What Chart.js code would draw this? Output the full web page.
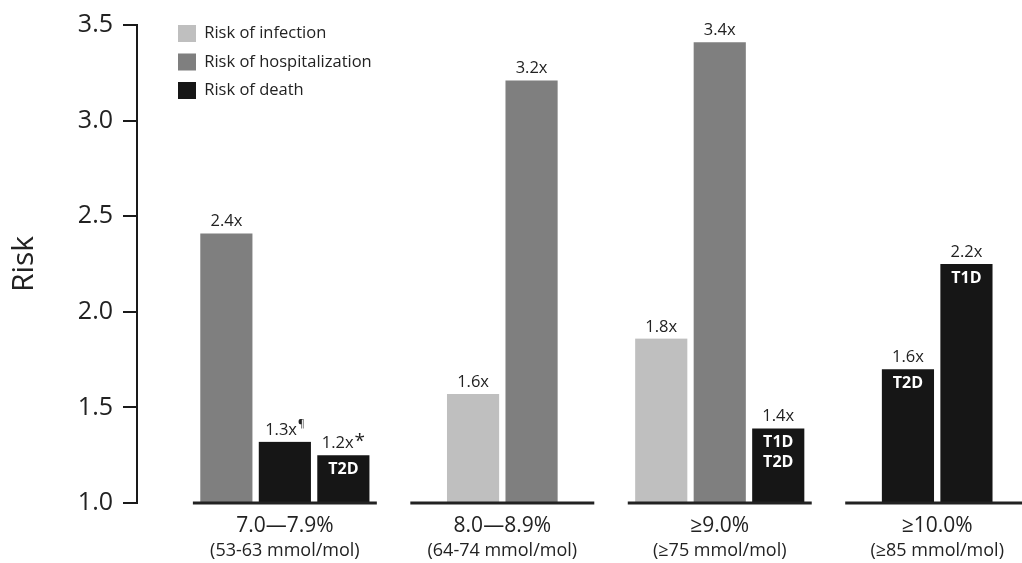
<!DOCTYPE html>
<html>
<head>
<meta charset="utf-8">
<script src="https://cdn.jsdelivr.net/npm/chart.js@4.4.1/dist/chart.umd.min.js"></script>
<style>
  html, body { margin: 0; padding: 0; background: #fff; overflow: hidden; }
  #wrap { width: 1022px; height: 563px; }
</style>
</head>
<body>
<div id="wrap"><canvas id="riskChart"></canvas></div>
<script>
// HbA1c bands (x axis)
const bands = ['7.0—7.9%', '8.0—8.9%', '≥9.0%', '≥10.0%'];
const bandsMmol = ['(53-63 mmol/mol)', '(64-74 mmol/mol)', '(≥75 mmol/mol)', '(≥85 mmol/mol)'];

// Bar heights
const infection = [null, 1.57, 1.86, null];
const hospitalization = [2.41, 3.21, 3.41, null];
const death = [1.32, null, 1.39, 1.70];
const deathByType = [1.25, null, null, 2.25];

// Printed labels above the bars
const infectionLabels = [null, '1.6x', '1.8x', null];
const hospitalizationLabels = ['2.4x', '3.2x', '3.4x', null];
const deathLabels = ['1.3x', null, '1.4x', '1.6x'];
const deathByTypeLabels = ['1.2x', null, null, '2.2x'];

// Footnote marks and labels inside the bars
const deathNotes = ['¶', null, null, null];
const deathByTypeNotes = ['*', null, null, null];
const deathInner = [null, null, 'T1D\nT2D', 'T2D'];
const deathByTypeInner = ['T2D', null, null, 'T1D'];

const yTicks = [1.0, 1.5, 2.0, 2.5, 3.0, 3.5];

const TEXT = '#222222';
const FONT = "'Open Sans', sans-serif";
Chart.defaults.font.family = FONT;

function barSet(label, data, color, valueLabels, notes, inner) {
    return {
        label: label,
        data: data,
        backgroundColor: color,
        borderColor: '#ffffff',
        borderWidth: { left: 3.5, right: 3.5, top: 0, bottom: 0 },
        barThickness: 58.5,
        valueLabels: valueLabels,
        notes: notes || [],
        inner: inner || []
    };
}

// Libellés au-dessus / dans les barres
const barLabels = {
    id: 'barLabels',
    afterDatasetsDraw(chart) {
        const ctx = chart.ctx;
        ctx.save();
        chart.data.datasets.forEach((ds, di) => {
            const meta = chart.getDatasetMeta(di);
            meta.data.forEach((bar, i) => {
                if (ds.data[i] == null) return;
                const main = ds.valueLabels[i];
                const note = ds.notes[i];
                ctx.font = `16.5px ${FONT}`;
                const wMain = ctx.measureText(main).width;
                let wNote = 0;
                const noteSize = note === '*' ? 19 : 10;
                if (note) {
                    ctx.font = `${noteSize}px ${FONT}`;
                    wNote = ctx.measureText(note).width + 1;
                }
                const x0 = bar.x - (wMain + wNote) / 2;
                const yb = bar.y - 7;
                ctx.fillStyle = TEXT;
                ctx.textAlign = 'left';
                ctx.textBaseline = 'alphabetic';
                ctx.font = `16.5px ${FONT}`;
                ctx.fillText(main, x0, yb);
                if (note) {
                    ctx.font = `${noteSize}px ${FONT}`;
                    ctx.textBaseline = 'top';
                    ctx.fillText(note, x0 + wMain + 1, yb - 16);
                }
                const inner = ds.inner[i];
                if (inner) {
                    ctx.font = `bold 16px ${FONT}`;
                    ctx.fillStyle = '#ffffff';
                    ctx.textAlign = 'center';
                    ctx.textBaseline = 'top';
                    inner.split('\n').forEach((line, k) => {
                        ctx.fillText(line, bar.x, bar.y + 6 + k * 20);
                    });
                }
            });
        });
        ctx.restore();
    }
};

// Lignes de base par groupe + libellés de l'axe x
const bandAxis = {
    id: 'bandAxis',
    afterDatasetsDraw(chart) {
        const { ctx, scales: { x, y } } = chart;
        const baseY = y.getPixelForValue(1);
        const half = (x.getPixelForValue(1) - x.getPixelForValue(0)) * 0.423;
        ctx.save();
        ctx.strokeStyle = TEXT;
        ctx.lineWidth = 3;
        bands.forEach((b, i) => {
            const cx = x.getPixelForValue(i);
            ctx.beginPath();
            ctx.moveTo(cx - half, baseY);
            ctx.lineTo(cx + half, baseY);
            ctx.stroke();
        });
        ctx.fillStyle = TEXT;
        ctx.textAlign = 'center';
        ctx.textBaseline = 'middle';
        bands.forEach((b, i) => {
            const cx = x.getPixelForValue(i);
            ctx.font = `21px ${FONT}`;
            ctx.fillText(b, cx, baseY + 23);
            ctx.font = `18px ${FONT}`;
            ctx.fillText(bandsMmol[i], cx, baseY + 48);
        });
        ctx.restore();
    }
};

// Place la légende en haut à gauche de la zone du graphique
const legendOffset = {
    id: 'legendOffset',
    afterLayout(chart) {
        const lg = chart.legend;
        const pad = lg.options.labels.padding;
        lg.left = chart.chartArea.left + 41 - pad;
        lg.top = chart.chartArea.top - pad;
    }
};

new Chart(document.getElementById('riskChart'), {
    type: 'bar',
    data: {
        labels: bands.map((_, i) => i),
        datasets: [
            barSet('Risk of infection', infection, '#bfbfbf', infectionLabels),
            barSet('Risk of hospitalization', hospitalization, '#7f7f7f', hospitalizationLabels),
            barSet('Risk of death', death, '#161616', deathLabels, deathNotes, deathInner),
            barSet('Risk of death (by type)', deathByType, '#161616', deathByTypeLabels, deathByTypeNotes, deathByTypeInner)
        ]
    },
    options: {
        responsive: true,
        maintainAspectRatio: false,
        animation: false,
        events: [],
        skipNull: true,
        layout: { padding: { top: 20, bottom: 60, left: 0, right: 0 } },
        scales: {
            x: {
                type: 'linear',
                offset: false,
                min: -0.68,
                max: 3.39,
                display: false
            },
            y: {
                min: 1,
                max: 3.5,
                afterFit: s => { s.width = 137; },
                afterBuildTicks: s => { s.ticks = yTicks.map(v => ({ value: v })); },
                ticks: {
                    callback: v => v.toFixed(1),
                    color: TEXT,
                    font: { size: 25 },
                    padding: 10
                },
                grid: { drawOnChartArea: false, drawTicks: true, tickLength: 14, color: '#1a1a1a', lineWidth: 2 },
                border: { display: true, color: '#1a1a1a', width: 2 },
                title: { display: true, text: 'Risk', color: TEXT, font: { size: 30 }, padding: { top: 6, bottom: 0 } }
            }
        },
        plugins: {
            tooltip: { enabled: false },
            legend: {
                position: 'chartArea',
                align: 'start',
                labels: {
                    boxWidth: 18,
                    boxHeight: 17,
                    padding: 11.5,
                    color: TEXT,
                    font: { size: 16.5 },
                    filter: item => item.datasetIndex < 3,
                    generateLabels: chart => Chart.defaults.plugins.legend.labels.generateLabels(chart)
                        .map(l => Object.assign(l, { lineWidth: 0, strokeStyle: 'rgba(0,0,0,0)' }))
                }
            }
        }
    },
    plugins: [barLabels, bandAxis, legendOffset]
});
</script>
</body>
</html>
